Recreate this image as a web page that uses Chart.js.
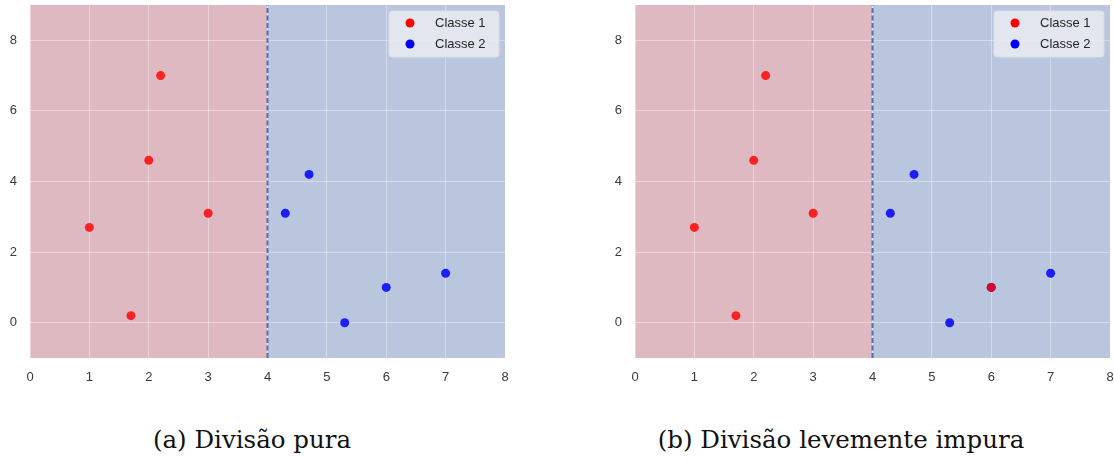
<!DOCTYPE html>
<html>
<head>
<meta charset="utf-8">
<script src="https://cdn.jsdelivr.net/npm/chart.js@4/dist/chart.umd.min.js"></script>
<style>
  body { margin: 0; background: #ffffff; width: 1114px; height: 462px; position: relative; overflow: hidden; }
  .box { position: absolute; top: 0; width: 520px; height: 395px; }
  .caption { position: absolute; top: 424px; width: 500px; text-align: center; line-height: 32px;
             font-family: "DejaVu Serif", serif; font-size: 24.5px; color: #111; }
</style>
</head>
<body>
<div class="box" style="left:0px"><canvas id="chartA"></canvas></div>
<div class="box" style="left:605px"><canvas id="chartB"></canvas></div>
<div class="caption" style="left:2px">(a) Divisão pura</div>
<div class="caption" style="left:591px">(b) Divisão levemente impura</div>
<script>
// values
const xTicks = [0, 1, 2, 3, 4, 5, 6, 7, 8];
const yTicks = [0, 2, 4, 6, 8];
const xRange = [0, 8];
const yRange = [-1, 9];
const splitX = 4;

const class1A = [
  { x: 1, y: 2.7 }, { x: 1.7, y: 0.2 }, { x: 2, y: 4.6 }, { x: 2.2, y: 7 }, { x: 3, y: 3.1 },
];
const class2A = [
  { x: 4.3, y: 3.1 }, { x: 4.7, y: 4.2 }, { x: 5.3, y: 0 }, { x: 6, y: 1 }, { x: 7, y: 1.4 },
];
const class1B = [
  { x: 1, y: 2.7 }, { x: 1.7, y: 0.2 }, { x: 2, y: 4.6 }, { x: 2.2, y: 7 }, { x: 3, y: 3.1 }, { x: 6, y: 1 },
];
const class2B = [
  { x: 4.3, y: 3.1 }, { x: 4.7, y: 4.2 }, { x: 5.3, y: 0 }, { x: 6, y: 1 }, { x: 7, y: 1.4 },
];
const labels = ["Classe 1", "Classe 2"];

const red = "rgba(255, 0, 0, 0.82)";
const blue = "rgba(0, 0, 255, 0.85)";

// paints the two regions behind the grid
const regionPlugin = {
  id: "regions",
  beforeDraw(chart) {
    const { ctx, chartArea, scales } = chart;
    const xs = scales.x.getPixelForValue(splitX);
    ctx.save();
    ctx.fillStyle = "#dfb9c1";
    ctx.fillRect(chartArea.left, chartArea.top, xs - chartArea.left, chartArea.bottom - chartArea.top);
    ctx.fillStyle = "#b9c6de";
    ctx.fillRect(xs, chartArea.top, chartArea.right - xs, chartArea.bottom - chartArea.top);
    ctx.restore();
  },
};

// legend box inside the plot, top right
const innerLegend = {
  id: "innerLegend",
  afterDatasetsDraw(chart) {
    const { ctx, chartArea } = chart;
    const w = 110, h = 46;
    const left = chartArea.right - 6 - w;
    const top = chartArea.top + 6;
    ctx.save();
    ctx.beginPath();
    ctx.roundRect(left, top, w, h, 3);
    ctx.fillStyle = "rgba(234, 234, 242, 0.85)";
    ctx.fill();
    ctx.strokeStyle = "rgba(220, 222, 232, 0.9)";
    ctx.lineWidth = 1;
    ctx.stroke();
    ctx.font = "13px 'Liberation Sans', Arial, sans-serif";
    ctx.textBaseline = "middle";
    for (let i = 0; i < 2; i++) {
      const ds = chart.data.datasets[i];
      const cy = top + 12 + i * 21;
      ctx.beginPath();
      ctx.arc(left + 21, cy, 4.5, 0, Math.PI * 2);
      ctx.fillStyle = i === 0 ? "#ff0000" : "#0000ff";
      ctx.fill();
      ctx.fillStyle = "#262626";
      ctx.fillText(ds.label, left + 46, cy);
    }
    ctx.restore();
  },
};

function returnScales() {
  const tickFont = { family: "'Liberation Sans', Arial, sans-serif", size: 13 };
  return {
    x: {
      type: "linear",
      min: xRange[0],
      max: xRange[1],
      afterBuildTicks: (scale) => { scale.ticks = xTicks.map((v) => ({ value: v })); },
      afterFit: (scale) => {
        scale.height = 37;
        scale.paddingLeft = 0;
        scale.paddingRight = 0;
      },
      grid: { color: "rgba(255, 255, 255, 0.38)", lineWidth: 1, drawTicks: false },
      border: { display: false },
      ticks: { color: "#3a3a3a", font: tickFont, padding: 12, maxRotation: 0 },
    },
    y: {
      type: "linear",
      min: yRange[0],
      max: yRange[1],
      afterBuildTicks: (scale) => { scale.ticks = yTicks.map((v) => ({ value: v })); },
      afterFit: (scale) => {
        scale.width = 30;
        scale.paddingTop = 0;
        scale.paddingBottom = 0;
      },
      grid: { color: "rgba(255, 255, 255, 0.38)", lineWidth: 1, drawTicks: false },
      border: { display: false },
      ticks: { color: "#3a3a3a", font: tickFont, padding: 13 },
    },
  };
}

function makeChart(id, class1, class2) {
  new Chart(document.getElementById(id), {
    type: "scatter",
    data: {
      datasets: [
        { label: labels[0], data: class1, backgroundColor: red, borderWidth: 0, pointRadius: 4.5 },
        { label: labels[1], data: class2, backgroundColor: blue, borderWidth: 0, pointRadius: 4.5 },
        {
          type: "line",
          label: "split",
          data: [{ x: splitX, y: yRange[0] }, { x: splitX, y: yRange[1] }],
          borderColor: "#4c72b0",
          borderWidth: 2,
          borderDash: [5, 2.5],
          pointRadius: 0,
          showLine: true,
        },
      ],
    },
    options: {
      responsive: true,
      maintainAspectRatio: false,
      animation: false,
      layout: { padding: { top: 5, right: 15, left: 0, bottom: 0 } },
      scales: returnScales(),
      plugins: {
        legend: { display: false },
        tooltip: { enabled: false },
      },
    },
    plugins: [regionPlugin, innerLegend],
  });
}

makeChart("chartA", class1A, class2A);
makeChart("chartB", class1B, class2B);
</script>
</body>
</html>
